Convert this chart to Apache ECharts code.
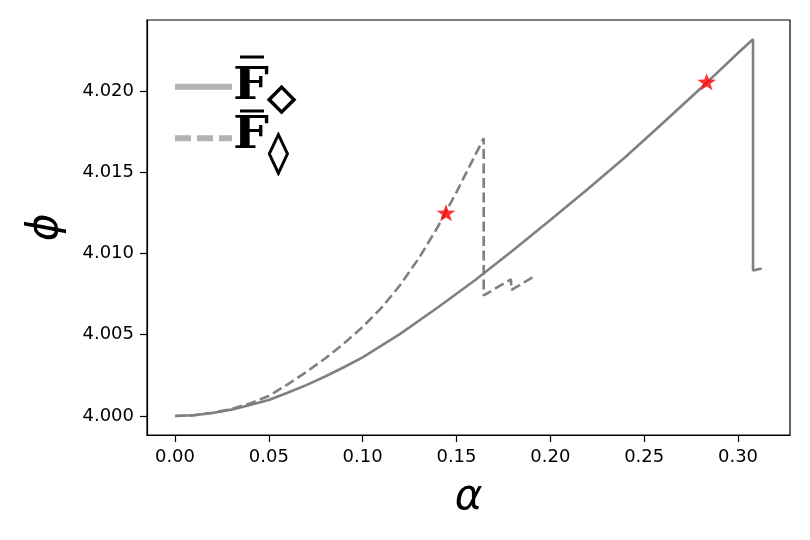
<!DOCTYPE html>
<html><head><meta charset="utf-8">
<script src="https://cdn.jsdelivr.net/npm/echarts/dist/echarts.min.js"></script>
<style>html,body{margin:0;padding:0;background:#fff}#chart{width:810px;height:540px}</style>
</head><body><div id="chart"></div>
<script>
// ---- data ----
const solidAlpha = [0, 0.01, 0.02, 0.03, 0.04, 0.05, 0.06, 0.07, 0.08, 0.09, 0.10, 0.12, 0.14, 0.16, 0.18, 0.20, 0.22, 0.24, 0.26, 0.28, 0.30, 0.308, 0.308, 0.3126];
const solidPhi   = [4.00000, 4.00005, 4.00018, 4.00039, 4.00067, 4.00098, 4.00143, 4.00190, 4.00243, 4.00300, 4.00361, 4.00505, 4.00668, 4.00837, 4.01018, 4.01206, 4.01397, 4.01594, 4.01803, 4.02015, 4.02234, 4.02318, 4.00895, 4.00908];
const dashAlpha  = [0, 0.01, 0.02, 0.03, 0.04, 0.05, 0.06, 0.07, 0.08, 0.09, 0.10, 0.11, 0.12, 0.13, 0.14, 0.15, 0.16, 0.1645, 0.1645, 0.1790, 0.1793, 0.1918];
const dashPhi    = [4.00000, 4.00005, 4.00020, 4.00043, 4.00077, 4.00123, 4.00194, 4.00271, 4.00354, 4.00446, 4.00548, 4.00665, 4.00806, 4.00972, 4.01163, 4.01378, 4.01606, 4.01709, 4.00742, 4.00841, 4.00776, 4.00862];
const starAlpha  = [0.1444, 0.2833];
const starPhi    = [4.01251, 4.02057];
const xTicks = [0.00, 0.05, 0.10, 0.15, 0.20, 0.25, 0.30];
const yTicks = [4.000, 4.005, 4.010, 4.015, 4.020];
const legendNames = ['F', 'F'];
const legendSubs = ['\u25C7', '\u25CA'];

const zip = (a, b) => a.map((v, i) => [v, b[i]]);
const chart = echarts.init(document.getElementById('chart'), null, {renderer: 'canvas'});
const starPath = 'path://M0,-10 L2.35,-3.24 L9.51,-3.09 L3.8,1.24 L5.88,8.09 L0,4 L-5.88,8.09 L-3.8,1.24 L-9.51,-3.09 L-2.35,-3.24 Z';
const tickFont = {fontSize: 18, color: '#000', fontFamily: 'DejaVu Sans'};

chart.setOption({
  animation: false,
  backgroundColor: '#fff',
  grid: {left: 147, top: 20, right: 20, bottom: 105, show: true, borderColor: '#000', borderWidth: 1.2, containLabel: false},
  xAxis: {
    type: 'value', min: -0.0149, max: 0.3277,
    splitLine: {show: false},
    axisLine: {show: true, onZero: false, lineStyle: {color: '#000', width: 1.2}},
    axisTick: {show: true, inside: false, length: 7, customValues: xTicks, lineStyle: {color: '#000', width: 1.2}},
    axisLabel: Object.assign({customValues: xTicks, margin: 13, formatter: v => v.toFixed(2)}, tickFont),
    name: '\u03B1', nameLocation: 'middle', nameGap: 42,
    nameTextStyle: {fontSize: 42, fontStyle: 'italic', fontFamily: 'DejaVu Sans', color: '#000'}
  },
  yAxis: {
    type: 'value', min: 3.99883, max: 4.02437,
    splitLine: {show: false},
    axisLine: {show: true, onZero: false, lineStyle: {color: '#000', width: 1.2}},
    axisTick: {show: true, inside: false, length: 7, customValues: yTicks, lineStyle: {color: '#000', width: 1.2}},
    axisLabel: Object.assign({customValues: yTicks, margin: 13, formatter: v => v.toFixed(3)}, tickFont),
    name: '\u03D5', nameLocation: 'middle', nameGap: 80, nameRotate: 90,
    nameTextStyle: {fontSize: 42, fontStyle: 'italic', fontFamily: 'DejaVu Sans', color: '#000'}
  },
  series: [
    {type: 'line', data: zip(solidAlpha, solidPhi), symbol: 'none', smooth: false,
     lineStyle: {color: '#808080', width: 2.6}, z: 3},
    {type: 'line', data: zip(dashAlpha, dashPhi), symbol: 'none', smooth: false,
     lineStyle: {color: '#808080', width: 2.6, type: [10, 4.5]}, z: 3},
    {type: 'scatter', data: zip(starAlpha, starPhi), symbol: starPath, symbolSize: [19, 18], symbolKeepAspect: true,
     itemStyle: {color: '#ff0000'}, z: 5}
  ],
  graphic: [
    {type: 'line', shape: {x1: 175, y1: 86.7, x2: 232, y2: 86.7}, style: {stroke: '#b3b3b3', lineWidth: 6}},
    {type: 'line', shape: {x1: 175, y1: 138.3, x2: 232, y2: 138.3}, style: {stroke: '#b3b3b3', lineWidth: 6, lineDash: [16, 6]}},
    {type: 'text', x: 233, y: 88, scaleX: 1.15, style: {text: legendNames[0], font: 'bold 44px "DejaVu Serif"', fill: '#000', verticalAlign: 'middle', align: 'left'}},
    {type: 'text', x: 233, y: 137, scaleX: 1.15, style: {text: legendNames[1], font: 'bold 44px "DejaVu Serif"', fill: '#000', verticalAlign: 'middle', align: 'left'}},
    {type: 'line', shape: {x1: 240, y1: 57, x2: 264, y2: 57}, style: {stroke: '#000', lineWidth: 3}},
    {type: 'line', shape: {x1: 240, y1: 111, x2: 264, y2: 111}, style: {stroke: '#000', lineWidth: 3}},
    {type: 'text', x: 281.5, y: 100, style: {text: legendSubs[0], font: 'bold 36px "DejaVu Sans"', fill: '#000', stroke: '#000', lineWidth: 1.6, verticalAlign: 'middle', align: 'center'}},
    {type: 'text', x: 278.5, y: 155, style: {text: legendSubs[1], font: '42px "DejaVu Sans"', fill: '#000', stroke: '#000', lineWidth: 0.8, verticalAlign: 'middle', align: 'center'}}
  ]
});
</script>
</body></html>
